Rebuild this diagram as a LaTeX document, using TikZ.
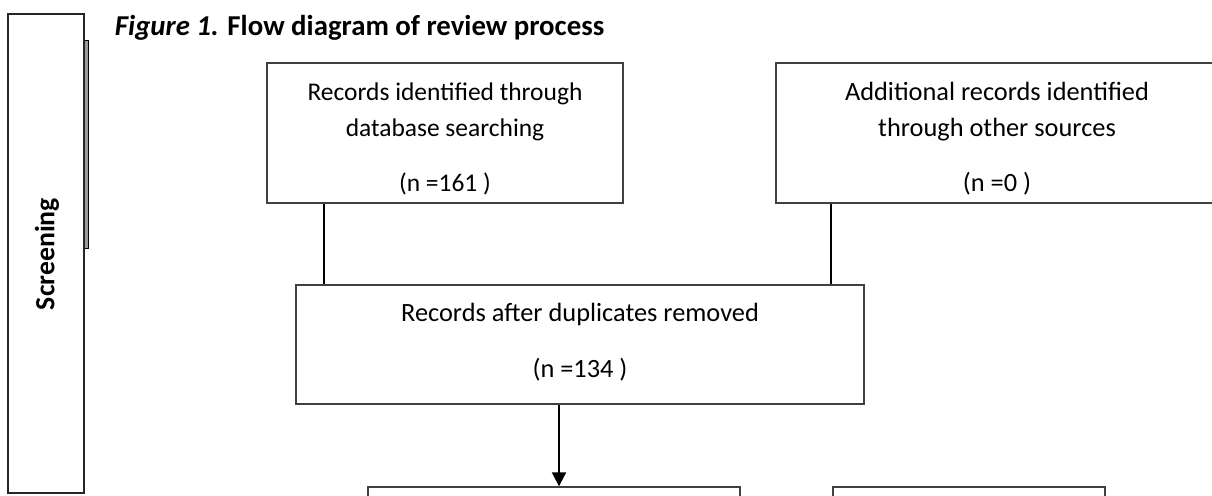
\documentclass[tikz,border=0pt]{standalone}
\usepackage{fontspec}
\setmainfont{Carlito}
\usetikzlibrary{%
  arrows,%
  arrows.meta,%
  positioning,%
  calc%
}

\begin{document}
\begin{tikzpicture}
  [
  x=0.02cm, y=-0.02cm,
  font=\fontsize{15}{17}\selectfont, draw=black, line width=1.1pt,
  box/.style={rectangle, draw=black!75, line width=0.8pt, inner sep=0pt},
  phase/.style={rectangle, draw=black!85, line width=0.8pt, minimum width=1.52cm, minimum height=9.58cm, inner sep=0pt},
  txt/.style={inner sep=0pt, anchor=base},
  small/.style={font=\fontsize{14.5}{16}\selectfont},
  link/.style={line width=1.1pt, draw=black}
  ]

\useasboundingbox (0,0) rectangle (1212,495);

% stage column
\node[rectangle, fill=black!40, draw=black, line width=0.5pt, minimum width=0.08cm, minimum height=4.16cm, inner sep=0pt] (tab) at (86,144) {};
\node[phase, fill=white] (screen) at (46,253.5) {};
\node[rotate=90, font=\fontsize{15.8}{17}\selectfont\bfseries] (screenlbl) at (47,254) {Screening};

\node[anchor=base west, inner sep=0pt, font=\fontsize{16.4}{18}\selectfont\bfseries] (title) at (114,35) {\textit{Figure 1.} Flow diagram of review process};

% boxes
\node[box, minimum width=7.12cm, minimum height=2.8cm] (db) at (445,133) {};
\node[box, minimum width=8.8cm, minimum height=2.8cm] (other) at (996,133) {};
\node[box, minimum width=11.36cm, minimum height=2.38cm] (dup) at (580,344.5) {};
\node[box, minimum width=7.44cm, minimum height=2.4cm] (scr) at (554,547) {};
\node[box, minimum width=5.44cm, minimum height=2.4cm] (excl) at (969,547) {};

% texts
\node[txt,small] (db1) at (445,100) {Records identified through};
\node[txt,small] (db2) at (445,136) {database searching};
\node[txt,small] (db3) at (445,191) {(n =161 )};
\node[txt] (ot1) at (997,100) {Additional records identified};
\node[txt] (ot2) at (997,136) {through other sources};
\node[txt] (ot3) at (997,191) {(n =0 )};
\node[txt] (du1) at (580,321) {Records after duplicates removed};
\node[txt] (du2) at (580,377) {(n =134 )};

% connectors
\draw[link] ([xshift=1.16cm]db.south west) -- ([xshift=1.16cm]db.south west |- dup.north);
\draw[link] ([xshift=1.12cm]other.south west) -- ([xshift=1.12cm]other.south west |- dup.north);
\draw[link,-{Triangle[width=0.28cm,length=0.28cm]}] ([xshift=-0.42cm]dup.south) -- ([xshift=-0.42cm]dup.south |- scr.north);

\end{tikzpicture}
\end{document}
